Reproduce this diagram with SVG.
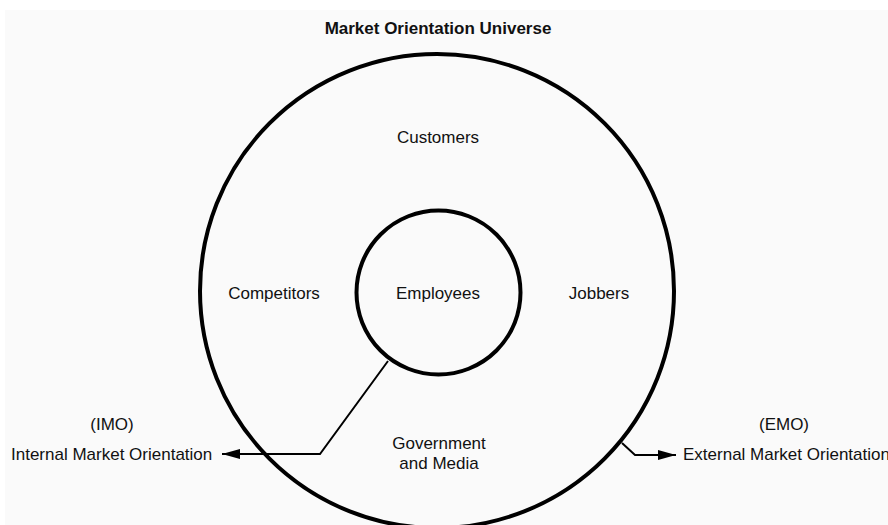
<svg xmlns="http://www.w3.org/2000/svg" width="888" height="525" viewBox="0 0 888 525">
  <style>
    text { font-family: "Liberation Sans", Arial, Helvetica, sans-serif; font-size: 17px; fill: #111; }
    .title { font-weight: bold; font-size: 17px; }
    .mid { text-anchor: middle; }
    .ring { fill: none; stroke: #000; stroke-width: 4; }
    .conn { fill: none; stroke: #000; stroke-width: 2; }
  </style>
  <defs>
    <marker id="arrow" viewBox="0 0 18 10" refX="18" refY="5" markerWidth="18" markerHeight="10" markerUnits="userSpaceOnUse" orient="auto">
      <path d="M0,0 L18,5 L0,10 z" fill="#000"/>
    </marker>
  </defs>

  <rect x="0" y="0" width="888" height="525" fill="#ffffff"/>
  <rect x="5" y="10" width="883" height="515" fill="#fafafa"/>

  <text class="title mid" x="438" y="34">Market Orientation Universe</text>

  <g id="universe">
    <circle class="ring" cx="437" cy="291" r="237"/>
    <text class="mid" x="438" y="143">Customers</text>
    <text class="mid" x="274" y="299">Competitors</text>
    <text class="mid" x="599" y="299">Jobbers</text>
    <text class="mid" x="439" y="449">Government</text>
    <text class="mid" x="439" y="469">and Media</text>
  </g>

  <g id="employees">
    <circle class="ring" cx="438.5" cy="292.5" r="82"/>
    <text class="mid" x="438" y="299">Employees</text>
  </g>

  <g id="connectors">
    <polyline class="conn" points="388,361 320,454 222,454" marker-end="url(#arrow)"/>
    <polyline class="conn" points="622,443 635,455 676,455" marker-end="url(#arrow)"/>
  </g>

  <g id="imo">
    <text class="mid" x="112" y="430">(IMO)</text>
    <text x="11" y="460">Internal Market Orientation</text>
  </g>

  <g id="emo">
    <text class="mid" x="784" y="430">(EMO)</text>
    <text x="683" y="460">External Market Orientation</text>
  </g>
</svg>
